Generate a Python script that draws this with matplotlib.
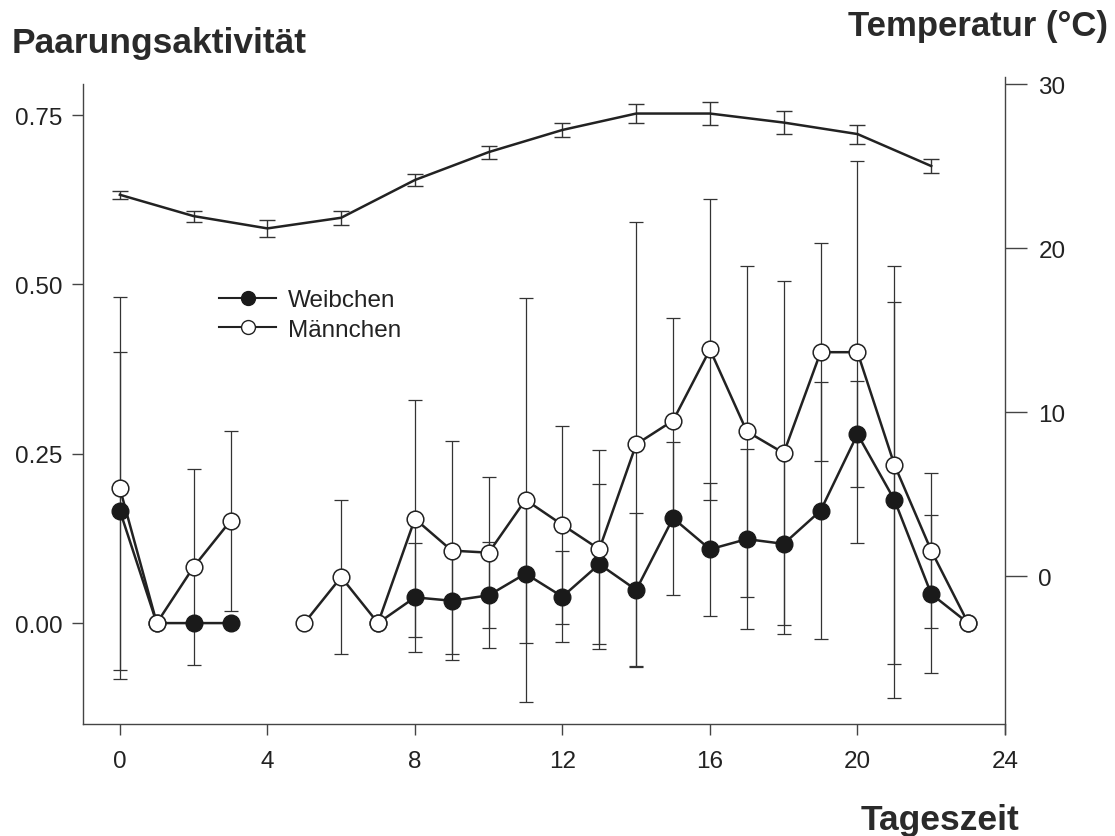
import numpy as np
import matplotlib
matplotlib.use("Agg")
import matplotlib.pyplot as plt

plt.rcParams['font.family'] = ['Liberation Sans', 'DejaVu Sans']

nan = np.nan
hours = list(range(24))
weibchen = [0.166, 0, 0, 0, nan, nan, nan, 0, 0.038, 0.033, 0.041, 0.073, 0.039, 0.087,
            0.049, 0.155, 0.109, 0.124, 0.117, 0.166, 0.279, 0.182, 0.043, 0]
weibchen_err = [0.235, 0, 0, 0, nan, nan, nan, 0, 0.080, 0.078, 0.078, 0.103, 0.067, 0.118,
                0.114, 0.113, 0.098, 0.133, 0.133, 0.19, 0.078, 0.292, 0.117, 0]
maennchen = [0.199, 0, 0.083, 0.151, nan, 0, 0.068, 0, 0.154, 0.107, 0.104, 0.182, 0.145, 0.109,
             0.264, 0.299, 0.404, 0.283, 0.251, 0.400, 0.400, 0.234, 0.107, 0]
maennchen_err = [0.282, 0, 0.145, 0.133, nan, 0, 0.114, 0, 0.175, 0.162, 0.111, 0.298, 0.146, 0.147,
                 0.328, 0.151, 0.222, 0.245, 0.254, 0.161, 0.282, 0.294, 0.114, 0]

temp_hours = [0, 2, 4, 6, 8, 10, 12, 14, 16, 18, 20, 22]
temp = [23.25, 21.95, 21.2, 21.85, 24.15, 25.85, 27.2, 28.2, 28.2, 27.65, 26.95, 25.0]
temp_err = [0.23, 0.34, 0.5, 0.43, 0.37, 0.4, 0.45, 0.56, 0.72, 0.7, 0.58, 0.45]

x_ticks = [0, 4, 8, 12, 16, 20, 24]
y_ticks = [0.0, 0.25, 0.5, 0.75]
y_ticklabels = ['0.00', '0.25', '0.50', '0.75']
t_ticks = [0, 10, 20, 30]

W, H = 1115, 837
fig = plt.figure(figsize=(W / 100, H / 100), dpi=100)
ax = fig.add_axes([83 / W, 1 - 725 / H, (1005 - 83) / W, (725 - 85) / H])

dark = '#222222'
ebkw = dict(fmt='none', ecolor='#333333', elinewidth=0.9, capsize=5, capthick=0.9)

h = np.array(hours, dtype=float)
wv = np.array(weibchen); we = np.array(weibchen_err)
mv = np.array(maennchen); me = np.array(maennchen_err)

ax.errorbar(h, mv, yerr=me, zorder=1, **ebkw)
ax.errorbar(h, wv, yerr=we, zorder=1, **ebkw)

ax.plot(h, wv, '-', color=dark, lw=1.8, zorder=2)
ax.plot(h, mv, '-', color=dark, lw=1.8, zorder=2)
ax.plot(h, wv, 'o', ms=12, mfc='#1a1a1a', mec='#1a1a1a', mew=1.0, zorder=3)
ax.plot(h, mv, 'o', ms=12, mfc='white', mec=dark, mew=1.1, zorder=4)

# legend handles
lw_h, = ax.plot([], [], '-o', color=dark, lw=1.5, ms=10, mfc='#1a1a1a', mec='#1a1a1a', label='Weibchen')
lm_h, = ax.plot([], [], '-o', color=dark, lw=1.5, ms=10, mfc='white', mec=dark, mew=1.0, label='Männchen')
leg = ax.legend(handles=[lw_h, lm_h], loc='center left',
                bbox_to_anchor=((219 - 83) / (1005 - 83), (725 - 316) / (725 - 85)),
                frameon=False, fontsize=17.5, handlelength=2.35, handletextpad=0.5,
                labelspacing=0.3, borderpad=0, borderaxespad=0)
for t in leg.get_texts():
    t.set_color('#222222')

ax.set_xlim(-1, 24)
ax.set_ylim(-0.149, 0.796)
ax.set_xticks(x_ticks)
ax.set_xticklabels([str(v) for v in x_ticks])
ax.set_yticks(y_ticks)
ax.set_yticklabels(y_ticklabels)
for s in ['top', 'right']:
    ax.spines[s].set_visible(False)
for s in ['left', 'bottom']:
    ax.spines[s].set_color('#444444')
    ax.spines[s].set_linewidth(1.0)
ax.tick_params(axis='both', direction='out', length=8, width=1.0, color='#444444',
               labelsize=17.5, labelcolor='#222222')
ax.tick_params(axis='x', pad=11)
ax.tick_params(axis='y', pad=7)

ax2 = ax.twinx()
ax2.errorbar(temp_hours, temp, yerr=temp_err, fmt='-', color=dark, lw=1.8,
             ecolor='#333333', elinewidth=1.0, capsize=6, capthick=1.0, zorder=2)
ax2.set_ylim(-9.0, 30.0)
ax2.set_yticks(t_ticks)
ax2.set_yticklabels([str(v) for v in t_ticks])
for s in ['top', 'left', 'bottom']:
    ax2.spines[s].set_visible(False)
ax2.spines['right'].set_color('#444444')
ax2.spines['right'].set_linewidth(1.0)
ax2.spines['right'].set_bounds(-9.6, 30.4)
ax2.tick_params(axis='y', direction='out', length=16, width=1.0, color='#444444',
                labelsize=17.5, labelcolor='#222222', pad=8)

fig.text(12 / W, 1 - 53 / H, 'Paarungsaktivität', fontsize=25.5, fontweight='bold',
         color='#2a2a2a', ha='left', va='baseline')
fig.text(1108 / W, 1 - 36 / H, 'Temperatur (°C)', fontsize=25, fontweight='bold',
         color='#2a2a2a', ha='right', va='baseline')
fig.text(1019 / W, 1 - 830 / H, 'Tageszeit', fontsize=25.5, fontweight='bold',
         color='#2a2a2a', ha='right', va='baseline')

fig.savefig('out.png', dpi=100, facecolor='white')
